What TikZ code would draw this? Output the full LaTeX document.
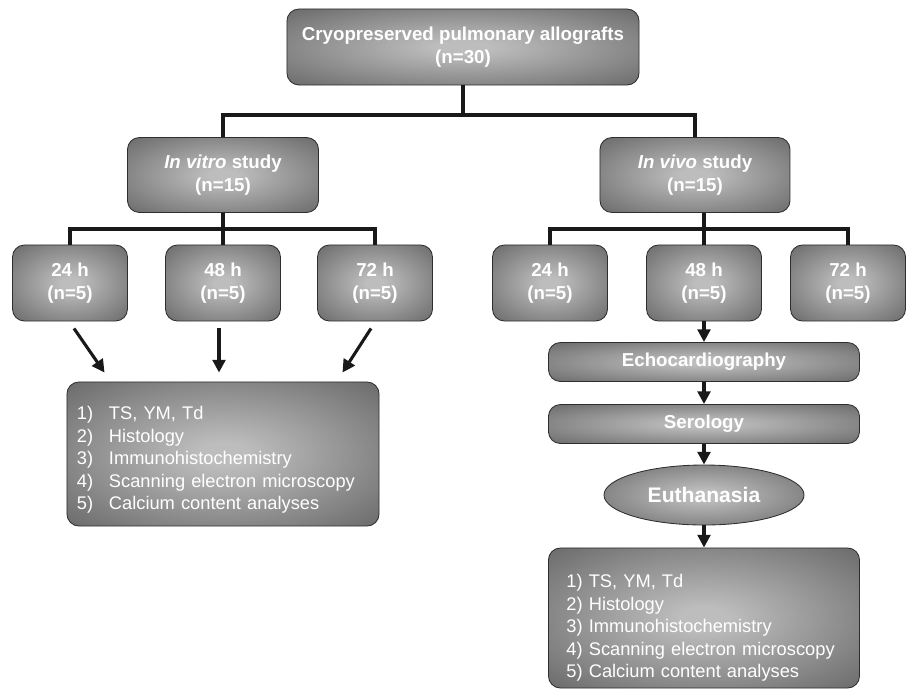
\documentclass[tikz,border=0pt]{standalone}
\usepackage{fontspec}
\setmainfont{Liberation Sans}
\usetikzlibrary{arrows.meta, shapes.geometric, calc}
\definecolor{boxinner}{gray}{0.74}
\definecolor{boxouter}{gray}{0.27}
\definecolor{boxline}{gray}{0.18}
\pgfdeclareradialshading{boxglow}{\pgfpoint{0bp}{0bp}}{color(0bp)=(boxinner); color(4bp)=(boxinner); color(50bp)=(boxouter); color(100bp)=(boxouter)}
\newcommand{\numitem}[1]{\makebox[0.8cm][l]{#1}}

\tikzset{
  box/.style={draw=boxline, line width=0.6pt, rounded corners=0.3cm, shading=boxglow,
    text=white, font=\fontsize{13.3}{16.5}\selectfont\bfseries, align=center, inner sep=0pt},
  timebox/.style={box, minimum width=2.875cm, minimum height=1.9cm},
  stepbar/.style={box, minimum width=7.775cm, minimum height=0.975cm},
  listbox/.style={box, font=\fontsize{13}{16}\selectfont, align=left},
  link/.style={line width=2.8pt, black!90},
  arr/.style={line width=2.2pt, black!90, -{Triangle[length=0.32cm, width=0.32cm]}}
}

\begin{document}
\begin{tikzpicture}[x=0.025cm, y=-0.025cm]
  \useasboundingbox (0,0) rectangle (906,693);
  % top level
  \node[box, minimum width=8.8cm, minimum height=1.9cm] (allo) at (463,47)
    {Cryopreserved pulmonary allografts\\(n=30)};
  % study arms
  \node[box, minimum width=4.775cm, minimum height=1.875cm] (vitro) at (223,175)
    {\textit{In vitro} study\\(n=15)};
  \node[box, minimum width=4.75cm, minimum height=1.875cm] (vivo) at (695,175)
    {\textit{In vivo} study\\(n=15)};
  \draw[link] (allo.south) -- ++(0,30) coordinate (alloj);
  \draw[link] (vitro.north) |- (alloj) -| (vivo.north);
  % in vitro time points
  \node[timebox] (l24) at (70,283) {24 h\\(n=5)};
  \node[timebox] (l48) at (223,283) {48 h\\(n=5)};
  \node[timebox] (l72) at (375,283) {72 h\\(n=5)};
  \draw[link] (vitro.south) -- ++(0,16) coordinate (vitroj);
  \draw[link] (l24.north) |- (vitroj) -| (l72.north);
  \draw[link] (vitroj) -- (l48.north);
  % in vivo time points
  \node[timebox] (r24) at (550,283) {24 h\\(n=5)};
  \node[timebox] (r48) at (704,283) {48 h\\(n=5)};
  \node[timebox] (r72) at (848,283) {72 h\\(n=5)};
  \draw[link] (vivo.south -| r48.north) -- (r48.north);
  \draw[link] (r24.north) |- ($(r48.north)+(0,-16)$) -| (r72.north);
  % in vitro analyses
  \node[listbox, minimum width=7.8cm, minimum height=3.6cm, text width=7.3cm, inner xsep=0.25cm] (res) at (223,454)
    {\rule{0pt}{0.63cm}\numitem{1)}TS, YM, Td\\ \numitem{2)}Histology\\ \numitem{3)}Immunohistochemistry\\
     \numitem{4)}Scanning electron microscopy\\ \numitem{5)}Calcium content analyses};
  \draw[arr] ($(l24.south)+(4,7)$) -- ($(res.north west)+(38,-9)$);
  \draw[arr] ($(l48.south)+(-4,7)$) -- ($(res.north)+(-4,-9)$);
  \draw[arr] ($(l72.south)+(-4,7)$) -- ($(res.north east)+(-37,-9)$);
  % in vivo follow-up
  \node[stepbar] (echo) at (704,362) {Echocardiography};
  \node[stepbar] (sero) at (704,424) {Serology};
  \node[box, ellipse, font=\fontsize{15}{18}\selectfont\bfseries, minimum width=5cm, minimum height=1.5cm] (euth) at (704,495) {Euthanasia};
  \node[listbox, minimum width=7.775cm, minimum height=3.5cm, text width=6.875cm, inner xsep=0.45cm] (res2) at (704,618)
    {\rule{0pt}{0.83cm}1) TS, YM, Td\\ 2) Histology\\ 3) Immunohistochemistry\\
     4) Scanning electron microscopy\\ 5) Calcium content analyses};
  \draw[arr] (r48.south) -- (echo.north);
  \draw[arr] (echo.south) -- (sero.north);
  \draw[arr] (sero.south) -- (euth.north);
  \draw[arr] (euth.south) -- (res2.north);
\end{tikzpicture}
\end{document}
